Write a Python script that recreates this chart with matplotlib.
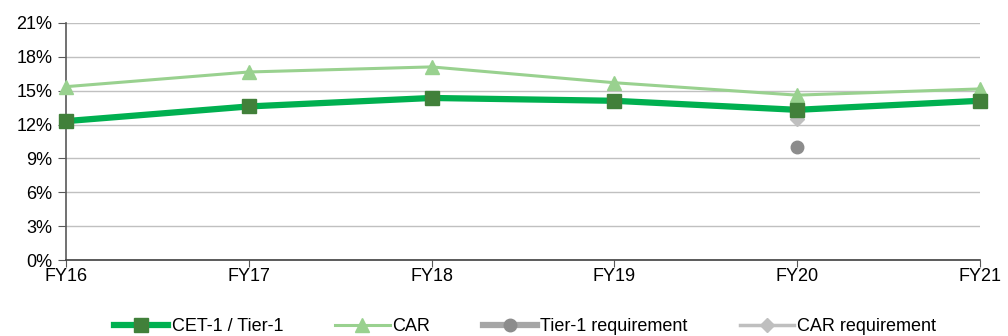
import matplotlib.pyplot as plt
import numpy as np
from matplotlib.ticker import FuncFormatter

plt.rcParams['font.family'] = ['Liberation Sans', 'DejaVu Sans']

years = ["FY16", "FY17", "FY18", "FY19", "FY20", "FY21"]
cet1_tier1 = [12.3, 13.6, 14.35, 14.1, 13.3, 14.1]
car = [15.35, 16.65, 17.1, 15.7, 14.6, 15.15]
tier1_req = [None, None, None, None, 10.0, None]
car_req = [None, None, None, None, 12.5, None]

GREEN = "#00B050"
DARK_GREEN = "#41803A"
LIGHT_GREEN = "#99D18F"
GRID_COLOR = "#C0C0C0"
AXIS_COLOR = "#595959"

x = np.arange(len(years))


def to_arr(vals):
    return np.array([np.nan if v is None else v for v in vals], dtype=float)


fig, ax = plt.subplots(figsize=(10.08, 3.36), dpi=100)
fig.subplots_adjust(left=0.0655, right=0.972, top=0.932, bottom=0.226)

ax.plot(x, cet1_tier1, color=GREEN, linewidth=4.5, marker="s", markersize=10,
        markerfacecolor=DARK_GREEN, markeredgecolor=DARK_GREEN,
        label="CET-1 / Tier-1", zorder=4, clip_on=False)
ax.plot(x, car, color=LIGHT_GREEN, linewidth=2.2, marker="^", markersize=10,
        markerfacecolor=LIGHT_GREEN, markeredgecolor=LIGHT_GREEN,
        label="CAR", zorder=3, clip_on=False)
ax.plot(x, to_arr(tier1_req), color="#A6A6A6", linewidth=4.5, marker="o",
        markersize=9, markerfacecolor="#8C8C8C", markeredgecolor="#8C8C8C",
        label="Tier-1 requirement", zorder=3)
ax.plot(x, to_arr(car_req), color="#BFBFBF", linewidth=2.5, marker="D",
        markersize=7, markerfacecolor="#BFBFBF", markeredgecolor="#BFBFBF",
        label="CAR requirement", zorder=3)

ax.set_xlim(0, len(years) - 1)
ax.set_ylim(0, 21)
ax.set_yticks(np.arange(0, 22, 3))
ax.yaxis.set_major_formatter(FuncFormatter(lambda v, _: f"{v:.0f}%"))
ax.set_xticks(x)
ax.set_xticklabels(years)

ax.grid(axis="y", color=GRID_COLOR, linewidth=1)
ax.set_axisbelow(True)
for side in ("top", "right"):
    ax.spines[side].set_visible(False)
ax.spines["left"].set_color(AXIS_COLOR)
ax.spines["bottom"].set_color("#404040")
ax.spines["left"].set_linewidth(1.2)
ax.spines["bottom"].set_linewidth(1.2)

ax.tick_params(axis="y", length=6, color=AXIS_COLOR, labelsize=13, pad=4)
ax.tick_params(axis="x", length=5, direction="out", color=AXIS_COLOR,
               labelsize=13, pad=1)

ax.legend(loc="center", bbox_to_anchor=(0.521, 0.027),
          bbox_transform=fig.transFigure, ncol=4, frameon=False, fontsize=13,
          handlelength=3.0, handletextpad=0.17, columnspacing=2.9,
          borderaxespad=0, borderpad=0)

fig.savefig("out.png", dpi=100)
